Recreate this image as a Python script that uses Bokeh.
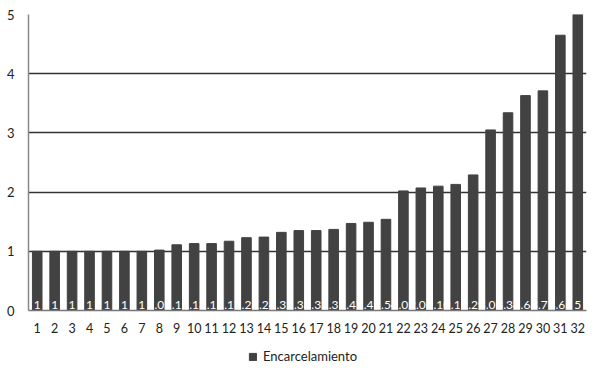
from bokeh.plotting import figure
from bokeh.layouts import column
from bokeh.models import ColumnDataSource, Legend, LegendItem, Range1d, FixedTicker
from bokeh.core.properties import value
from bokeh.embed import file_html
from bokeh.resources import INLINE

cases = list(range(1, 33))
encarcelamiento = [1.0, 1.0, 1.0, 1.0, 1.0, 1.0, 1.0, 1.02, 1.11, 1.13, 1.13, 1.17,
                   1.23, 1.24, 1.32, 1.35, 1.35, 1.37, 1.47, 1.49, 1.54, 2.02,
                   2.07, 2.10, 2.13, 2.29, 3.05, 3.34, 3.63, 3.71, 4.65, 5.0]
labels = ["1" if v == 1.0 else ("5" if v == 5.0 else f"{v:.2f}") for v in encarcelamiento]
y_ticks = [0, 1, 2, 3, 4, 5]
series_name = "Encarcelamiento"
bar_color = "#424242"

src = ColumnDataSource(dict(x=cases, top=encarcelamiento, lab=labels))

p = figure(width=590, height=340, output_backend="svg", toolbar_location=None,
           x_range=Range1d(0.5, 32.5), y_range=Range1d(0, 5),
           min_border_left=28, min_border_right=4, min_border_top=14, min_border_bottom=30)
p.outline_line_color = None
p.background_fill_color = "white"
p.border_fill_color = "white"

r = p.vbar(x="x", top="top", width=0.55, source=src, fill_color=bar_color, line_color=bar_color)

p.text(x="x", y=0, text="lab", source=src, text_color="white", text_align="center",
       text_baseline="bottom", y_offset=-2, text_font=value("Lato"), text_font_size="12px")

p.xgrid.grid_line_color = None
p.ygrid.grid_line_color = "#333333"
p.ygrid.grid_line_width = 1.3
p.ygrid.ticker = FixedTicker(ticks=y_ticks)

p.yaxis.ticker = FixedTicker(ticks=y_ticks)
p.yaxis.major_tick_line_color = None
p.yaxis.minor_tick_line_color = None
p.yaxis.axis_line_color = "#888888"
p.yaxis.axis_line_width = 1.5
p.yaxis.major_label_text_font = "Lato"
p.yaxis.major_label_text_font_size = "13px"
p.yaxis.major_label_text_color = "#222222"
p.yaxis.major_label_standoff = 8

p.xaxis.ticker = FixedTicker(ticks=cases)
p.xaxis.major_tick_line_color = None
p.xaxis.minor_tick_line_color = None
p.xaxis.axis_line_color = "#777777"
p.xaxis.axis_line_width = 1.5
p.xaxis.major_label_text_font = "Lato"
p.xaxis.major_label_text_font_size = "12.5px"
p.xaxis.major_label_text_color = "#222222"
p.xaxis.major_label_standoff = 6

# legend strip below the chart
lg = figure(width=590, height=30, output_backend="svg", toolbar_location=None,
            x_range=Range1d(0, 1), y_range=Range1d(0, 1),
            min_border_left=0, min_border_right=0, min_border_top=0, min_border_bottom=0)
lg.axis.visible = False
lg.grid.visible = False
lg.outline_line_color = None
lr = lg.vbar(x=[-50], top=[-40], bottom=[-50], width=0.5, fill_color=bar_color, line_color=bar_color)
legend = Legend(items=[LegendItem(label=series_name, renderers=[lr])],
                orientation="horizontal", location=(220, 6),
                border_line_color=None, background_fill_alpha=0, label_text_font="Lato",
                label_text_font_size="13px", label_text_color="#222222",
                glyph_width=9, glyph_height=9, padding=2, margin=0, spacing=4,
                label_standoff=6)
lg.add_layout(legend, "center")

open("out.html", "w").write(file_html(column(p, lg, spacing=0), INLINE))
